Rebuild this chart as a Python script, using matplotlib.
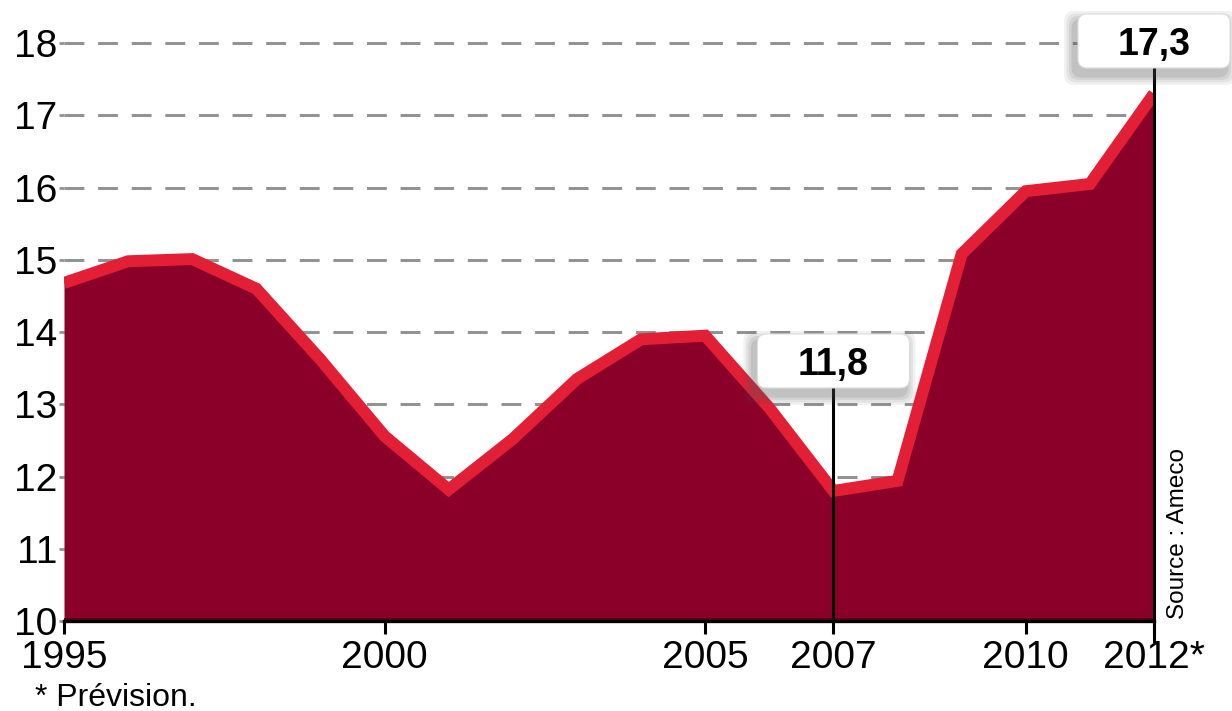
import matplotlib
matplotlib.use("Agg")
import matplotlib.pyplot as plt
import matplotlib.transforms as mtransforms
from matplotlib.patches import FancyBboxPatch

# Data (values in %)
years = [1995, 1996, 1997, 1998, 1999, 2000, 2001, 2002, 2003,
         2004, 2005, 2006, 2007, 2008, 2009, 2010, 2011, 2012]
values = [14.68, 14.98, 15.01, 14.6, 13.62, 12.56, 11.82, 12.52, 13.35,
          13.9, 13.95, 12.95, 11.8, 11.94, 15.08, 15.95, 16.05, 17.3]

x_ticks = [1995, 2000, 2005, 2007, 2010, 2012]
x_tick_labels = ["1995", "2000", "2005", "2007", "2010", "2012*"]
y_ticks = [10, 11, 12, 13, 14, 15, 16, 17, 18]

callout_years = [2007, 2012]
callout_texts = ["11,8", "17,3"]

fill_color = "#8B0029"
line_color = "#E31F36"
grid_color = "#939393"

plt.rcParams["font.family"] = ["Liberation Sans", "DejaVu Sans"]

fig = plt.figure(figsize=(12.32, 7.11), dpi=100)
ax = fig.add_axes([64 / 1232, 1 - 621 / 711, 1090 / 1232, (621 - 7) / 711])

# Area and thick red outline
ax.fill_between(years, 10, values, color=fill_color, linewidth=0, zorder=2)
ax.axhline(10.03, color="#55001A", linewidth=2, zorder=2.5)
ax.plot(years, values, color=line_color, linewidth=8.6,
        solid_joinstyle="miter", solid_capstyle="butt", zorder=3)

ax.set_xlim(1995, 2012)
ax.set_ylim(10, 18.5)

# Dashed horizontal grid
for y in y_ticks[1:]:
    ax.axhline(y, color=grid_color, linewidth=2.2, dashes=(6.5, 4.5), zorder=1)

ax.set_yticks(y_ticks)
ax.set_yticklabels([str(v) for v in y_ticks])
ax.set_xticks(x_ticks)
ax.set_xticklabels(x_tick_labels)
ax.tick_params(axis="y", length=3.6, width=2, color=grid_color, pad=1.5,
               labelsize=28, labelcolor="black")
ax.tick_params(axis="x", length=9, width=2.2, color="black", pad=4.5,
               labelsize=28, direction="out")

for side in ["left", "top", "right"]:
    ax.spines[side].set_visible(False)
ax.spines["bottom"].set_linewidth(2.4)
ax.spines["bottom"].set_zorder(4)

# Call-out boxes with leader lines
box_centers_y = [13.6, 18.03]
line_tops = [13.21, 17.64]
line_bottoms = [10.05, 9.72]
for yr, txt, cy, top, bot in zip(callout_years, callout_texts,
                                 box_centers_y, line_tops, line_bottoms):
    ax.plot([yr, yr], [bot, top], color="black", linewidth=2.2,
            clip_on=False, zorder=5)
    tr = fig.dpi_scale_trans + mtransforms.ScaledTranslation(yr, cy, ax.transData)
    w, h = 1.52, 0.54
    # soft shadow
    for i, a in enumerate([0.08, 0.09, 0.11, 0.13]):
        g = 0.10 - i * 0.025
        shadow = FancyBboxPatch((-w / 2 - 0.04 - g, -h / 2 - 0.07 - g),
                                w + 2 * g, h + 2 * g,
                                boxstyle="round,pad=0,rounding_size=0.1",
                                transform=tr, fc="#555555", ec="none",
                                alpha=a, clip_on=False, zorder=6)
        ax.add_artist(shadow)
    box = FancyBboxPatch((-w / 2, -h / 2), w, h,
                         boxstyle="round,pad=0,rounding_size=0.09",
                         transform=tr, fc="white", ec="#DDDDDD", lw=0.8,
                         clip_on=False, zorder=7)
    ax.add_artist(box)
    ax.text(yr, cy, txt, ha="center", va="center_baseline", fontsize=27,
            fontweight="bold", color="black", zorder=8, clip_on=False)

ax.text(1.022, 0.004, "Source : Ameco", transform=ax.transAxes, rotation=90,
        ha="center", va="bottom", fontsize=17.5, color="black")

fig.text(35 / 1232, 5 / 711, "* Prévision.", ha="left", va="baseline",
         fontsize=23, color="black")

fig.savefig("out.png", dpi=100)
